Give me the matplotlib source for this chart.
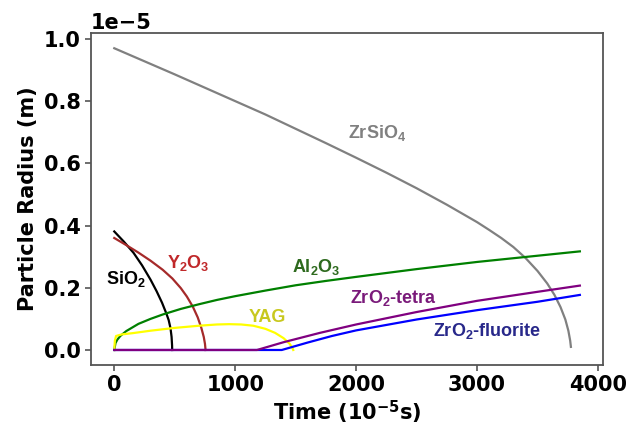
""" Particle radius vs time for each phase
"""

import matplotlib
matplotlib.use('Agg')
import matplotlib.pyplot as plt
import numpy as np

plt.rcParams['font.family'] = 'DejaVu Sans'
plt.rcParams['font.weight'] = 'bold'
plt.rcParams['mathtext.fontset'] = 'custom'
plt.rcParams['mathtext.rm'] = 'Liberation Sans:bold'
plt.rcParams['mathtext.bf'] = 'DejaVu Sans:bold'
plt.rcParams['mathtext.default'] = 'rm'

# time in 1e-5 s, radius in 1e-5 m
t_zrsio4 = [0, 250, 500, 750, 1000, 1250, 1500, 1750, 2000, 2250, 2500, 2750,
            3000, 3100, 3200, 3300, 3400, 3500, 3580, 3640, 3690, 3730, 3755,
            3770, 3776]
r_zrsio4 = [0.970, 0.928, 0.886, 0.843, 0.800, 0.757, 0.711, 0.665, 0.618,
            0.570, 0.520, 0.467, 0.411, 0.386, 0.360, 0.331, 0.296, 0.254,
            0.214, 0.177, 0.138, 0.098, 0.062, 0.030, 0.010]

t_sio2 = [0, 80, 160, 230, 300, 350, 395, 430, 450, 465, 474, 478, 479]
r_sio2 = [0.381, 0.348, 0.312, 0.272, 0.226, 0.189, 0.152, 0.118, 0.096,
          0.070, 0.042, 0.015, 0.0]

t_y2o3 = [0, 100, 200, 300, 400, 480, 550, 600, 650, 690, 720, 740, 750, 755]
r_y2o3 = [0.360, 0.337, 0.313, 0.287, 0.258, 0.230, 0.199, 0.172, 0.139,
          0.105, 0.071, 0.042, 0.020, 0.0]

t_al2o3 = [0, 10, 25, 50, 100, 200, 300, 400, 550, 700, 850, 1000, 1250,
           1500, 1750, 2000, 2500, 3000, 3500, 3850]
r_al2o3 = [0.0, 0.022, 0.033, 0.045, 0.061, 0.084, 0.100, 0.114, 0.132,
           0.147, 0.161, 0.173, 0.191, 0.208, 0.222, 0.235, 0.260, 0.283,
           0.303, 0.317]

t_yag = [0, 5, 15, 60, 150, 300, 500, 700, 850, 950, 1050, 1150, 1250, 1330,
         1400, 1450, 1475, 1480]
r_yag = [0.0, 0.030, 0.045, 0.050, 0.054, 0.062, 0.071, 0.078, 0.082, 0.083,
         0.082, 0.078, 0.068, 0.055, 0.038, 0.020, 0.005, 0.0]

t_tetra = [0, 1180, 1400, 1700, 2000, 2500, 3000, 3500, 3850]
r_tetra = [0.0, 0.0, 0.025, 0.055, 0.082, 0.122, 0.158, 0.187, 0.207]

t_fluor = [0, 1385, 1600, 1800, 2000, 2500, 3000, 3500, 3850]
r_fluor = [0.0, 0.0, 0.024, 0.045, 0.063, 0.098, 0.128, 0.155, 0.177]

scale = 1e-5

fig = plt.figure(figsize=(6.43, 4.25), dpi=100)
ax = fig.add_axes([0.1415, 0.141, 0.7965, 0.781])

ax.plot(t_zrsio4, np.array(r_zrsio4) * scale, color='gray', lw=1.6)
ax.plot(t_sio2, np.array(r_sio2) * scale, color='black', lw=1.6)
ax.plot(t_y2o3, np.array(r_y2o3) * scale, color='brown', lw=1.6)
ax.plot(t_al2o3, np.array(r_al2o3) * scale, color='green', lw=1.6)
ax.plot(t_yag, np.array(r_yag) * scale, color='yellow', lw=1.6)
ax.plot(t_fluor, np.array(r_fluor) * scale, color='blue', lw=1.6)
ax.plot(t_tetra, np.array(r_tetra) * scale, color='purple', lw=1.6)

lab = dict(fontsize=13, fontweight='bold', family='Liberation Sans',
           ha='center', va='center')
ax.text(2172, 0.697e-5, r'ZrSiO$_4$', color='#808080', **lab)
ax.text(99, 0.227e-5, r'SiO$_2$', color='black', **lab)
ax.text(611, 0.281e-5, r'Y$_2$O$_3$', color='#c0282a', **lab)
ax.text(1668, 0.268e-5, r'Al$_2$O$_3$', color='#2e6a1e', **lab)
ax.text(1263, 0.105e-5, 'YAG', color='#c8c81e', **lab)
ax.text(2312, 0.166e-5, r'ZrO$_2$-tetra', color='#7a1a7a', **lab)
ax.text(3080, 0.061e-5, r'ZrO$_2$-fluorite', color='#28288a', **lab)

ax.set_xticks([0, 1000, 2000, 3000, 4000])
ax.set_yticks(np.array([0.0, 0.2, 0.4, 0.6, 0.8, 1.0]) * scale)
ax.tick_params(labelsize=15, width=1.2, length=4, color='#555555')
for lbl in ax.get_xticklabels() + ax.get_yticklabels():
    lbl.set_fontweight('bold')
ax.yaxis.get_offset_text().set_fontsize(15)
ax.yaxis.get_offset_text().set_fontweight('bold')
for sp in ax.spines.values():
    sp.set_linewidth(1.3)
    sp.set_color('#555555')

ax.set_xlabel(r'Time (10$^{\mathbf{-5}}$s)', fontsize=15, fontweight='bold',
              labelpad=2)
ax.set_ylabel('Particle Radius (m)', fontsize=15, fontweight='bold')

fig.savefig('out.png', dpi=100)
